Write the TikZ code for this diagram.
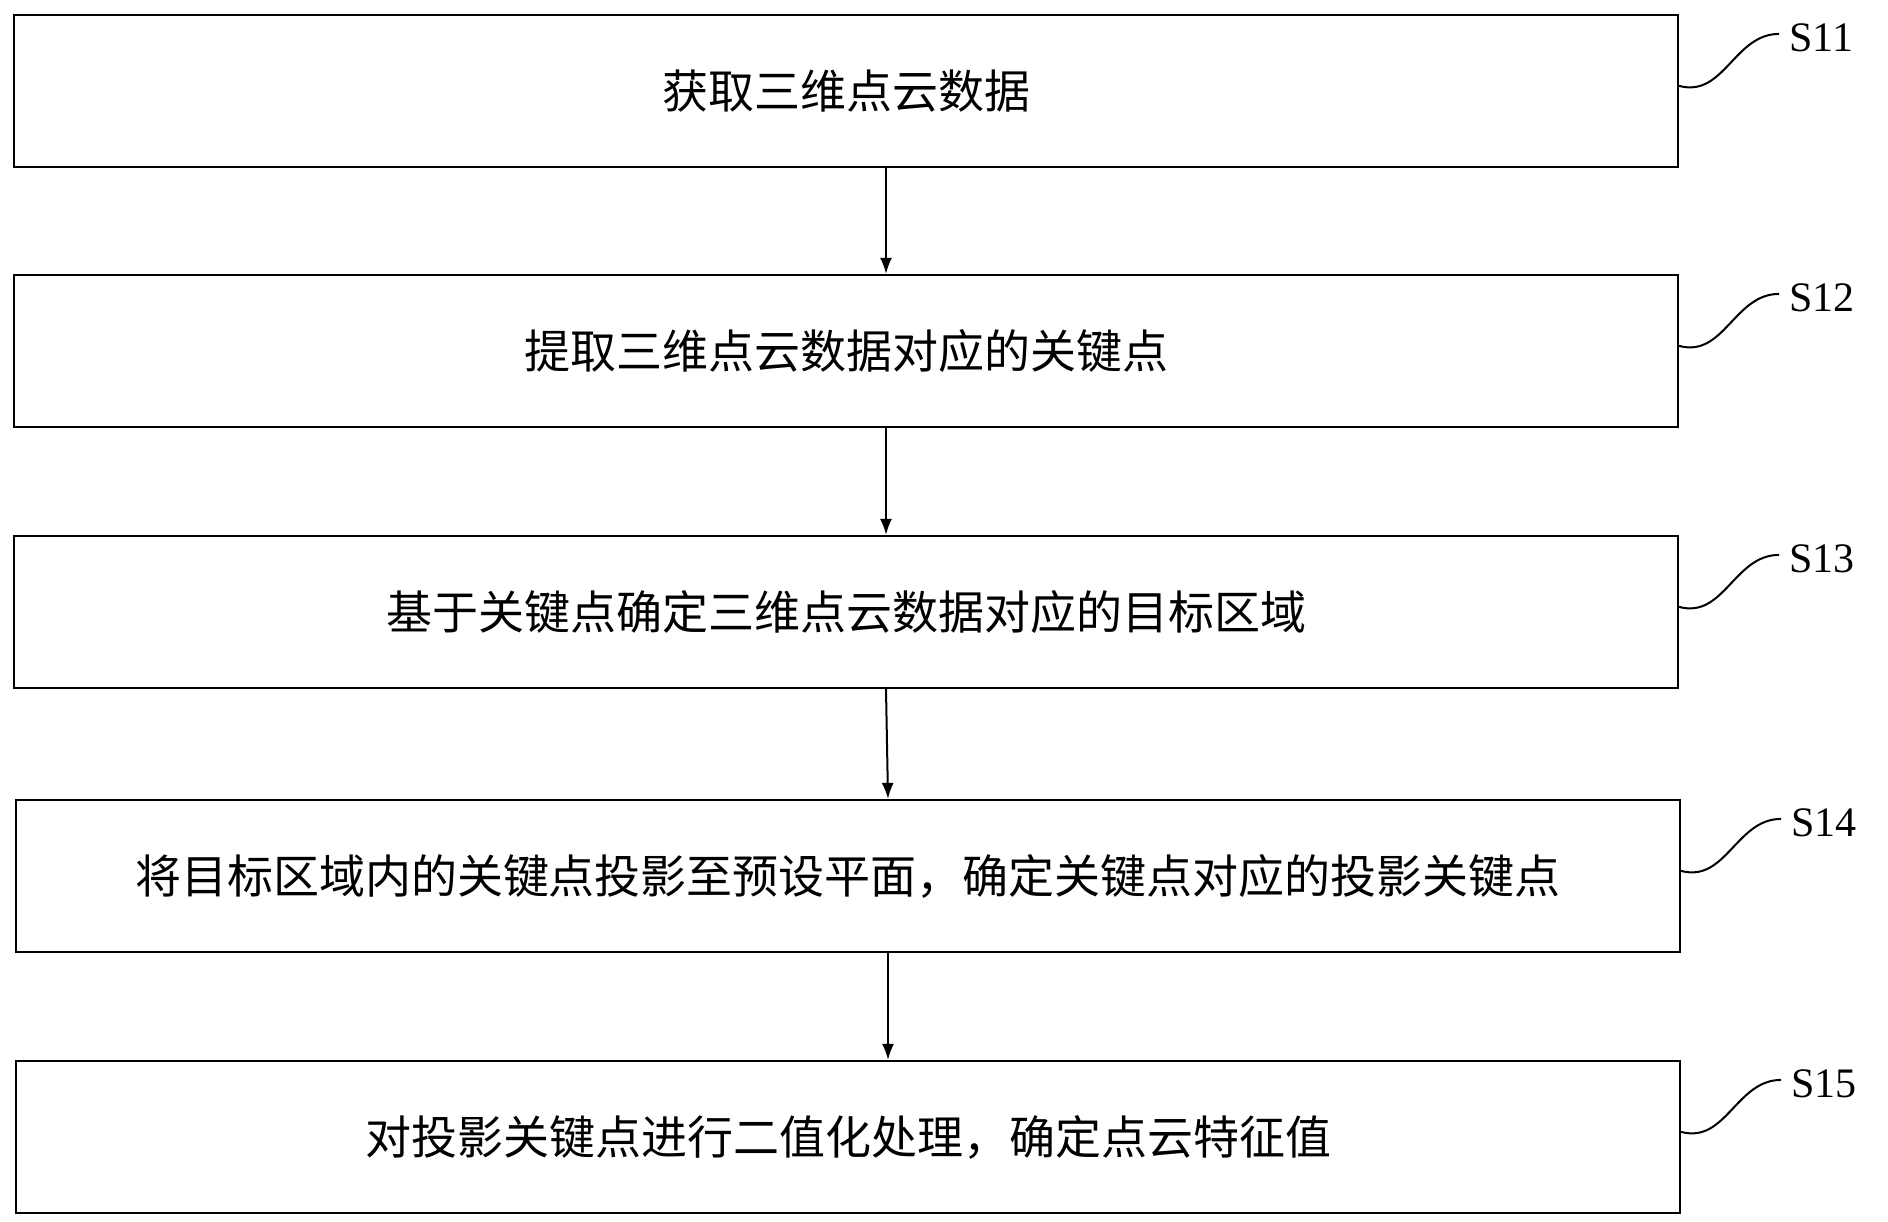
\documentclass[tikz,border=0pt]{standalone}
\usepackage{fontspec}
\setmainfont{Liberation Serif}
\newfontfamily\cjk{Noto Sans CJK SC}
\usetikzlibrary{arrows.meta,calc}
\begin{document}
\begin{tikzpicture}[x=1pt,y=-1pt,
 box/.style={draw,line width=2.2pt,minimum width=1664pt,minimum height=152pt,inner sep=0pt,font=\cjk\fontsize{46}{48}\selectfont},
 arr/.style={line width=2pt,-{Latex[length=16pt,width=12pt]}},
 lab/.style={font=\fontsize{42}{44}\selectfont,anchor=west,inner sep=0pt}]
\useasboundingbox (0,0) rectangle (1888,1222);
\node[box] (b1) at (846,91) {获取三维点云数据};
\node[box] (b2) at (846,351) {提取三维点云数据对应的关键点};
\node[box] (b3) at (846,612) {基于关键点确定三维点云数据对应的目标区域};
\node[box] (b4) at (848,876) {将目标区域内的关键点投影至预设平面，确定关键点对应的投影关键点};
\node[box] (b5) at (848,1137) {对投影关键点进行二值化处理，确定点云特征值};
\foreach \a/\b in {b1/b2,b2/b3,b3/b4,b4/b5} \draw[arr] ($(\a.south)+(40,0)$)--($(\b.north)+(40,0)$);
\foreach \b/\t in {b1/S11,b2/S12,b3/S13,b4/S14,b5/S15}{
 \coordinate (c\b) at ($(\b.north east)+(0,72)$);
 \coordinate (e\b) at ($(\b.north east)+(100,20)$);
 \node[lab] (l\b) at ($(\b.north east)+(110,24)$) {\t};
 \draw[line width=2pt] (c\b) .. controls +(45,12) and +(-45,0) .. (e\b);
}
\end{tikzpicture}
\end{document}
